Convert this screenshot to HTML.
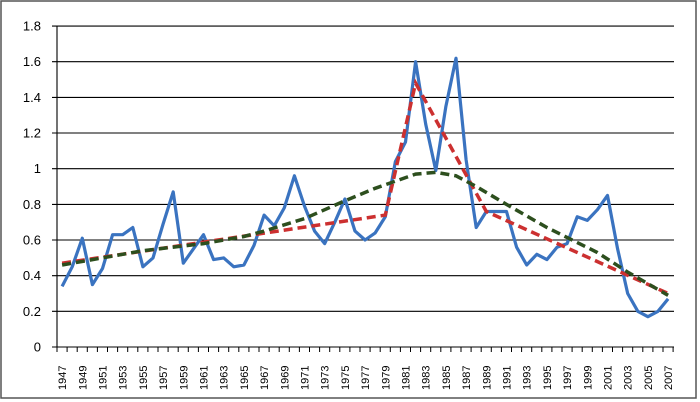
<!DOCTYPE html>
<html><head><meta charset="utf-8"><style>body{margin:0;background:#fff}svg{display:block}</style></head><body>
<svg width="700" height="402" xmlns="http://www.w3.org/2000/svg" font-family="Liberation Sans, sans-serif">
<rect x="1" y="1" width="695" height="397" fill="#fff" stroke="#555" stroke-width="1.5"/>
<g stroke="#000" stroke-width="1.1">
<line x1="57" x2="674" y1="311.3" y2="311.3"/>
<line x1="57" x2="674" y1="275.7" y2="275.7"/>
<line x1="57" x2="674" y1="240.0" y2="240.0"/>
<line x1="57" x2="674" y1="204.4" y2="204.4"/>
<line x1="57" x2="674" y1="168.7" y2="168.7"/>
<line x1="57" x2="674" y1="133.0" y2="133.0"/>
<line x1="57" x2="674" y1="97.4" y2="97.4"/>
<line x1="57" x2="674" y1="61.7" y2="61.7"/>
<line x1="57" x2="674" y1="26.1" y2="26.1"/>
<line x1="57" x2="674" y1="347" y2="347"/>
<line x1="57" x2="57" y1="26.1" y2="347"/>
<path d="M52 347H57M52 311.3H57M52 275.7H57M52 240H57M52 204.4H57M52 168.7H57M52 133H57M52 97.4H57M52 61.7H57M52 26.1H57"/>
<line x1="56.5" x2="674" y1="349.5" y2="349.5" stroke-width="5" stroke-dasharray="1 9.1"/>
</g>
<g font-size="13" text-anchor="end">
<text x="41" y="351.5">0</text><text x="41" y="315.8">0.2</text><text x="41" y="280.2">0.4</text><text x="41" y="244.5">0.6</text><text x="41" y="208.9">0.8</text><text x="41" y="173.2">1</text><text x="41" y="137.5">1.2</text><text x="41" y="101.9">1.4</text><text x="41" y="66.2">1.6</text><text x="41" y="30.6">1.8</text>
</g>
<g font-size="11">
<text transform="translate(66.1,390) rotate(-90)">1947</text>
<text transform="translate(86.3,390) rotate(-90)">1949</text>
<text transform="translate(106.5,390) rotate(-90)">1951</text>
<text transform="translate(126.7,390) rotate(-90)">1953</text>
<text transform="translate(146.9,390) rotate(-90)">1955</text>
<text transform="translate(167.1,390) rotate(-90)">1957</text>
<text transform="translate(187.3,390) rotate(-90)">1959</text>
<text transform="translate(207.5,390) rotate(-90)">1961</text>
<text transform="translate(227.7,390) rotate(-90)">1963</text>
<text transform="translate(247.9,390) rotate(-90)">1965</text>
<text transform="translate(268.1,390) rotate(-90)">1967</text>
<text transform="translate(288.3,390) rotate(-90)">1969</text>
<text transform="translate(308.5,390) rotate(-90)">1971</text>
<text transform="translate(328.7,390) rotate(-90)">1973</text>
<text transform="translate(348.9,390) rotate(-90)">1975</text>
<text transform="translate(369.1,390) rotate(-90)">1977</text>
<text transform="translate(389.3,390) rotate(-90)">1979</text>
<text transform="translate(409.5,390) rotate(-90)">1981</text>
<text transform="translate(429.7,390) rotate(-90)">1983</text>
<text transform="translate(449.9,390) rotate(-90)">1985</text>
<text transform="translate(470.1,390) rotate(-90)">1987</text>
<text transform="translate(490.3,390) rotate(-90)">1989</text>
<text transform="translate(510.5,390) rotate(-90)">1991</text>
<text transform="translate(530.7,390) rotate(-90)">1993</text>
<text transform="translate(550.9,390) rotate(-90)">1995</text>
<text transform="translate(571.1,390) rotate(-90)">1997</text>
<text transform="translate(591.3,390) rotate(-90)">1999</text>
<text transform="translate(611.5,390) rotate(-90)">2001</text>
<text transform="translate(631.7,390) rotate(-90)">2003</text>
<text transform="translate(651.9,390) rotate(-90)">2005</text>
<text transform="translate(672.1,390) rotate(-90)">2007</text>
</g>
<polyline fill="none" stroke="#3a73c0" stroke-width="3.2" stroke-linejoin="round" points="62.1,286.4 72.2,266.8 82.3,238.2 92.4,284.6 102.5,268.5 112.6,234.7 122.7,234.7 132.8,227.5 142.9,266.8 153,257.9 163.1,224 173.2,191.9 183.3,263.2 193.4,248.9 203.5,234.7 213.6,259.6 223.7,257.9 233.8,266.8 243.9,265 254,245.4 264.1,215.1 274.2,225.8 284.3,207.9 294.4,175.8 304.5,206.1 314.6,231.1 324.7,243.6 334.8,222.2 344.9,199 355,231.1 365.1,240 375.2,232.9 385.3,216.8 395.4,161.6 405.5,142 415.6,61.7 425.7,124.1 435.8,170.5 445.9,106.3 456,58.2 466.1,159.8 476.2,227.5 486.3,211.5 496.4,211.5 506.5,211.5 516.6,247.2 526.7,265 536.8,254.3 546.9,259.6 557,247.2 567.1,243.6 577.2,216.8 587.3,220.4 597.4,209.7 607.5,195.4 617.6,248.9 627.7,293.5 637.8,311.3 647.9,316.7 658,311.3 668.1,298.9"/>
<polyline fill="none" stroke="#cc3030" stroke-width="3.5" stroke-dasharray="9,5" points="62.1,263.2 385.3,215.1 415.6,83.1 486.3,211.5 668.1,293.5"/>
<path fill="none" stroke="#2d4f1e" stroke-width="3.5" stroke-dasharray="9,5" d="M62.1,265 L142.9,250.7 L203.5,243.6 L243.9,236.5 L264.1,231.1 L304.5,218.6 L344.9,200.8 L375.2,188.3 L395.4,181.2 L415.6,174.1 L435.8,172.3 L456,175.8 L476.2,186.5 L506.5,204.4 L546.9,227.5 L597.4,252.5 L627.7,272.1 L668.1,295.3"/>
</svg>
</body></html>
